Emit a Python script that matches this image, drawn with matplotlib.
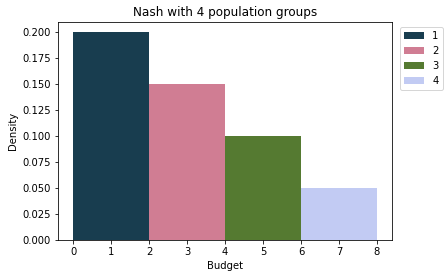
import matplotlib
matplotlib.use("Agg")
from matplotlib import pyplot as plt

# population groups and their budget ranges
groups = ["1", "2", "3", "4"]
bin_left = [0, 2, 4, 6]
bin_width = [2, 2, 2, 2]
density = [0.200, 0.150, 0.100, 0.050]
colors = ["#183d4f", "#d07d93", "#557a31", "#c2cbf3"]

fig, ax = plt.subplots(figsize=(447 / 72, 278 / 72), dpi=72)
fig.subplots_adjust(left=0.13, right=0.877, top=0.921, bottom=0.137)

for g, x, w, d, c in zip(groups, bin_left, bin_width, density, colors):
    ax.bar(x, d, width=w, align="edge", color=c, label=g)

ax.set_title("Nash with 4 population groups")
ax.set_xlabel("Budget")
ax.set_ylabel("Density")
ax.set_xticks(range(0, 9))
ax.set_yticks([0.0, 0.025, 0.05, 0.075, 0.1, 0.125, 0.15, 0.175, 0.2])
ax.set_yticklabels(["%.3f" % v for v in ax.get_yticks()])
ax.legend(loc="upper left", bbox_to_anchor=(1.01, 1.0))

fig.savefig("out.png", dpi=72)
